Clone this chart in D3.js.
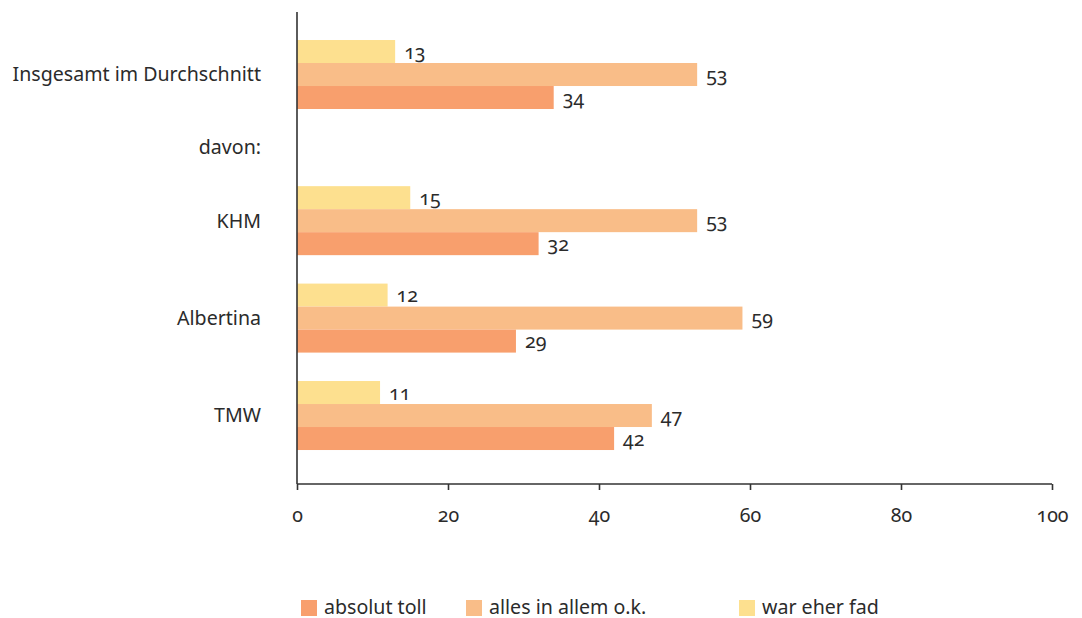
<!DOCTYPE html>
<html>
<head>
<meta charset="utf-8">
<script src="https://cdn.jsdelivr.net/npm/d3@7"></script>
<style>
  html, body { margin: 0; padding: 0; background: #fff; }
  text { font-family: "Noto Sans", "Open Sans", sans-serif; fill: #2b2b2b; font-variant-numeric: oldstyle-nums; }
</style>
</head>
<body>
<svg id="chart" width="1082" height="618"></svg>
<script>
// ---- data ----
const categories = ["Insgesamt im Durchschnitt", "davon:", "KHM", "Albertina", "TMW"];
const headingRows = ["davon:"];
const seriesNames = ["war eher fad", "alles in allem o.k.", "absolut toll"]; // top to bottom within group
const warEherFad   = [13, null, 15, 12, 11];
const allesOk      = [53, null, 53, 59, 47];
const absolutToll  = [34, null, 32, 29, 42];
const xTicks = [0, 20, 40, 60, 80, 100];
const legendNames = ["absolut toll", "alles in allem o.k.", "war eher fad"];

const colors = {
  "absolut toll": "#F89F6D",
  "alles in allem o.k.": "#F9BD88",
  "war eher fad": "#FDE08F"
};

const FS = 19.6;
const svg = d3.select("#chart");
const x = d3.scaleLinear().domain([0, 100]).range([297, 1052]);

// row layout: heading rows take half a unit
const rowUnits = categories.map(c => headingRows.includes(c) ? 0.5 : 1);
const cum = [];
let acc = 0;
rowUnits.forEach((u, i) => { cum.push(acc + u / 2); acc += u; });
const y = d3.scaleLinear().domain([0, acc]).range([25.8, 25.8 + acc * 97.43]);
const barH = 23;

const valuesBySeries = {
  "war eher fad": warEherFad,
  "alles in allem o.k.": allesOk,
  "absolut toll": absolutToll
};

const inner = d3.scaleBand().domain(seriesNames).range([-barH * 1.5, barH * 1.5]).padding(0);

categories.forEach((cat, i) => {
  const cy = y(cum[i]);
  svg.append("text").attr("x", 261).attr("y", cy).attr("dy", "0.35em")
    .attr("text-anchor", "end").attr("font-size", FS).text(cat);
  if (headingRows.includes(cat)) return;
  seriesNames.forEach(s => {
    const v = valuesBySeries[s][i];
    const by = cy + inner(s);
    svg.append("rect")
      .attr("x", x(0)).attr("y", by)
      .attr("width", x(v) - x(0)).attr("height", inner.bandwidth())
      .attr("fill", colors[s]);
    svg.append("text")
      .attr("x", x(v) + 9).attr("y", by + inner.bandwidth() / 2 + 0.5)
      .attr("dy", "0.35em").attr("font-size", FS).text(v);
  });
});

// axes
const axisY = 484;
const xAxis = d3.axisBottom(x).tickValues(xTicks).tickSize(6).tickPadding(18).tickFormat(d3.format("d"));
const gx = svg.append("g").attr("transform", `translate(0,${axisY})`).call(xAxis);
gx.select(".domain").attr("stroke", "#333").attr("stroke-width", 1.6).attr("d", `M${x(0)},0H${x(100)}`);
gx.selectAll(".tick line").attr("stroke", "#333").attr("stroke-width", 1.6);
gx.selectAll(".tick text").attr("font-size", 19.5).attr("fill", "#2b2b2b");

svg.append("line").attr("x1", x(0)).attr("x2", x(0)).attr("y1", 12).attr("y2", axisY)
  .attr("stroke", "#333").attr("stroke-width", 1.6);

// legend
const legendX = [301, 466, 739];
legendNames.forEach((n, i) => {
  const g = svg.append("g").attr("transform", `translate(${legendX[i]},600)`);
  g.append("rect").attr("width", 16).attr("height", 16).attr("fill", colors[n]);
  g.append("text").attr("x", 23).attr("y", 8).attr("dy", "0.33em").attr("font-size", FS).text(n);
});
</script>
</body>
</html>
